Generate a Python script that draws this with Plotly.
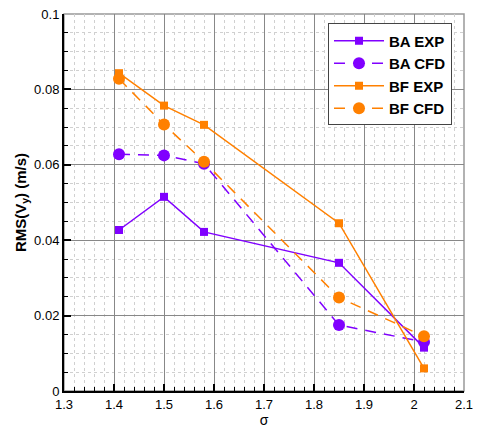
import plotly.graph_objects as go

sigma = [1.41, 1.50, 1.58, 1.85, 2.02]
ba_exp = [0.0427, 0.0515, 0.0422, 0.0340, 0.0115]
ba_cfd = [0.0628, 0.0625, 0.0603, 0.0175, 0.0130]
bf_exp = [0.0843, 0.0757, 0.0706, 0.0445, 0.0060]
bf_cfd = [0.0828, 0.0707, 0.0608, 0.0248, 0.0145]

PURPLE = "#8000FF"
ORANGE = "#FF8000"

fig = go.Figure()
fig.add_trace(go.Scatter(x=sigma, y=ba_exp, name="BA EXP", mode="lines+markers",
                         line=dict(color=PURPLE, width=1.5),
                         marker=dict(symbol="square", size=8, color=PURPLE)))
fig.add_trace(go.Scatter(x=sigma, y=ba_cfd, name="BA CFD", mode="lines+markers",
                         line=dict(color=PURPLE, width=1.5, dash="11px,8px"),
                         marker=dict(symbol="circle", size=12, color=PURPLE)))
fig.add_trace(go.Scatter(x=sigma, y=bf_exp, name="BF EXP", mode="lines+markers",
                         line=dict(color=ORANGE, width=1.5),
                         marker=dict(symbol="square", size=8, color=ORANGE)))
fig.add_trace(go.Scatter(x=sigma, y=bf_cfd, name="BF CFD", mode="lines+markers",
                         line=dict(color=ORANGE, width=1.5, dash="11px,8px"),
                         marker=dict(symbol="circle", size=12, color=ORANGE)))

fig.update_layout(
    width=478, height=433,
    margin=dict(l=64, r=14, t=14, b=42),
    plot_bgcolor="white", paper_bgcolor="white",
    font=dict(family="Liberation Sans, Arial, sans-serif", size=13, color="black"),
    showlegend=True,
    legend=dict(x=0.66, y=0.975, xanchor="left", yanchor="top",
                bgcolor="white", bordercolor="#444", borderwidth=1,
                font=dict(size=15, weight="bold"), tracegroupgap=0,
                itemwidth=50),
    shapes=[dict(type="rect", xref="paper", yref="paper", x0=0, x1=1, y0=0, y1=1,
                 line=dict(color="#999999", width=1.5), layer="below")],
)

fig.update_xaxes(
    range=[1.3, 2.1], dtick=0.1, tick0=1.3,
    showgrid=True, gridcolor="#888888", gridwidth=1,
    showline=True, linecolor="black", linewidth=2,
    ticks="inside", ticklen=7, tickwidth=2, tickcolor="black",
    zeroline=False, automargin=False,
    minor=dict(dtick=0.02, showgrid=True, griddash="dot", gridcolor="#d0d0d0",
               ticks="inside", ticklen=4, tickcolor="black", tickwidth=1),
    title=dict(text="σ", standoff=2, font=dict(size=14)),
)
fig.update_yaxes(
    range=[0, 0.1], dtick=0.02,
    showgrid=True, gridcolor="#888888", gridwidth=1,
    showline=True, linecolor="black", linewidth=2,
    ticks="inside", ticklen=7, tickwidth=2, tickcolor="black",
    zeroline=False, automargin=False,
    minor=dict(dtick=0.005, showgrid=True, griddash="dot", gridcolor="#d0d0d0",
               ticks="inside", ticklen=4, tickcolor="black", tickwidth=1),
    title=dict(text="<b>RMS(V<sub>y</sub>) (m/s)</b>", standoff=4, font=dict(size=15)),
)

fig.write_html("out.html", config={"displayModeBar": False},
               post_script="document.body.style.margin='0';")
